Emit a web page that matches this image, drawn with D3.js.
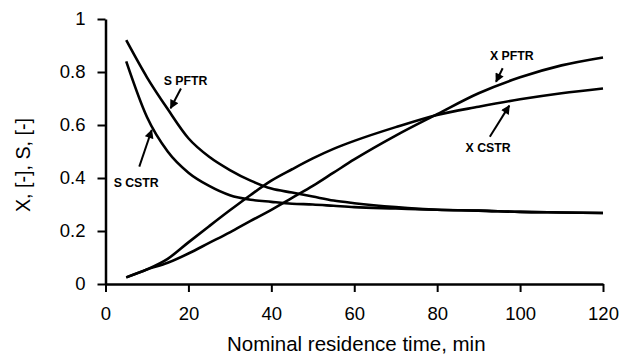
<!DOCTYPE html>
<html>
<head>
<meta charset="utf-8">
<script src="https://cdn.jsdelivr.net/npm/d3@7"></script>
<style>
  body { margin: 0; background: #fff; }
  svg { display: block; font-family: Arial, "Liberation Sans", sans-serif; }
  .tick text { font-size: 18.5px; fill: #000; }
  .tick line { stroke: #000; stroke-width: 2px; }
  .domain { stroke: #000; stroke-width: 2.5px; }
  .axis-label { fill: #000; }
  .note { font-size: 12.3px; font-weight: bold; fill: #000; }
</style>
</head>
<body>
<svg width="624" height="355"></svg>
<script>
(function (d3) {
  "use strict";

  // residence time, min
  const times = [5, 10, 15, 20, 25, 30, 35, 40, 45, 50, 55, 60, 70, 80, 90, 100, 110, 120];

  const sPFTR = [0.92, 0.78, 0.66, 0.55, 0.48, 0.43, 0.39, 0.36, 0.345, 0.33, 0.315, 0.305, 0.29, 0.28, 0.277, 0.272, 0.27, 0.268];
  const sCSTR = [0.84, 0.63, 0.5, 0.42, 0.37, 0.335, 0.318, 0.31, 0.303, 0.3, 0.295, 0.29, 0.285, 0.28, 0.277, 0.272, 0.27, 0.268];
  const xCSTR = [0.025, 0.055, 0.095, 0.157, 0.218, 0.278, 0.336, 0.39, 0.433, 0.474, 0.51, 0.54, 0.592, 0.638, 0.669, 0.697, 0.72, 0.738];
  const xPFTR = [0.025, 0.055, 0.08, 0.115, 0.155, 0.195, 0.238, 0.28, 0.325, 0.37, 0.42, 0.47, 0.56, 0.641, 0.72, 0.78, 0.825, 0.855];

  const xTicks = [0, 20, 40, 60, 80, 100, 120];
  const yTicks = [0, 0.2, 0.4, 0.6, 0.8, 1];
  const yTickLabels = ["0", "0.2", "0.4", "0.6", "0.8", "1"];

  // label text, label position, arrow from -> to (data units)
  const noteText = ["S PFTR", "S CSTR", "X PFTR", "X CSTR"];
  const notePos = [[19.3, 0.751], [7.4, 0.365], [98.0, 0.845], [92.3, 0.499]];
  const arrowFrom = [[18.2, 0.738], [8.15, 0.443], [95.8, 0.814], [92.7, 0.556]];
  const arrowTo = [[15.7, 0.663], [11.15, 0.581], [94.2, 0.763], [97.4, 0.673]];

  const svg = d3.select("svg");
  const width = +svg.attr("width");
  const height = +svg.attr("height");

  const margin = { top: 19, right: 21, bottom: 71, left: 105.5 };
  const innerWidth = width - margin.left - margin.right;
  const innerHeight = height - margin.top - margin.bottom;

  const xScale = d3.scaleLinear().domain([0, 120]).range([0, innerWidth]);
  const yScale = d3.scaleLinear().domain([0, 1]).range([innerHeight, 0]);

  const g = svg
    .append("g")
    .attr("transform", `translate(${margin.left},${margin.top})`);

  const xAxis = d3.axisBottom(xScale).tickValues(xTicks).tickSize(8).tickSizeOuter(0).tickPadding(14);
  const yAxis = d3
    .axisLeft(yScale)
    .tickValues(yTicks)
    .tickFormat((d, i) => yTickLabels[i])
    .tickSize(8)
    .tickSizeOuter(0)
    .tickPadding(12);

  const xAxisG = g.append("g").attr("transform", `translate(0,${innerHeight})`).call(xAxis);
  const yAxisG = g.append("g").call(yAxis);
  xAxisG.selectAll(".tick text").attr("dy", "0.78em");

  xAxisG
    .append("text")
    .attr("class", "axis-label")
    .attr("x", innerWidth / 2 + 2)
    .attr("y", 67)
    .attr("font-size", "20.5px")
    .attr("text-anchor", "middle")
    .text("Nominal residence time, min");

  yAxisG
    .append("text")
    .attr("class", "axis-label")
    .attr("transform", "rotate(-90)")
    .attr("x", -(165 - margin.top))
    .attr("y", -76)
    .attr("font-size", "19.7px")
    .attr("text-anchor", "middle")
    .text("X, [-], S, [-]");

  const line = d3
    .line()
    .x((d) => xScale(d[0]))
    .y((d) => yScale(d[1]))
    .curve(d3.curveMonotoneX);

  [sPFTR, sCSTR, xCSTR, xPFTR].forEach((values) => {
    g.append("path")
      .datum(times.map((t, i) => [t, values[i]]))
      .attr("fill", "none")
      .attr("stroke", "#000")
      .attr("stroke-width", 2.6)
      .attr("stroke-linejoin", "round")
      .attr("d", line);
  });

  svg
    .append("defs")
    .append("marker")
    .attr("id", "head")
    .attr("viewBox", "0 0 10 10")
    .attr("refX", 9)
    .attr("refY", 5)
    .attr("markerUnits", "userSpaceOnUse")
    .attr("markerWidth", 10)
    .attr("markerHeight", 9)
    .attr("orient", "auto")
    .append("path")
    .attr("d", "M0,0L10,5L0,10z")
    .attr("fill", "#000");

  noteText.forEach((txt, i) => {
    g.append("text")
      .attr("class", "note")
      .attr("x", xScale(notePos[i][0]))
      .attr("y", yScale(notePos[i][1]))
      .attr("text-anchor", "middle")
      .text(txt);

    g.append("line")
      .attr("x1", xScale(arrowFrom[i][0]))
      .attr("y1", yScale(arrowFrom[i][1]))
      .attr("x2", xScale(arrowTo[i][0]))
      .attr("y2", yScale(arrowTo[i][1]))
      .attr("stroke", "#000")
      .attr("stroke-width", 2)
      .attr("marker-end", "url(#head)");
  });
})(d3);
</script>
</body>
</html>
